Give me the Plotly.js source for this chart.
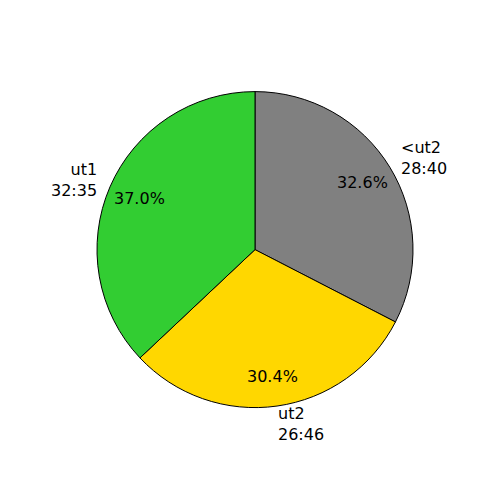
<!DOCTYPE html>
<html>
<head>
<meta charset="utf-8">
<script src="https://cdn.plot.ly/plotly-3.0.1.min.js"></script>
<style>html,body{margin:0;padding:0;background:#fff;}#chart{width:500px;height:500px;}</style>
</head>
<body>
<div id="chart"></div>
<script>
const labels = ['<ut2', 'ut2', 'ut1'];
const times = ['28:40', '26:46', '32:35'];
const colors = ['#808080', '#FFD700', '#32CD32'];

const values = times.map(t => { const p = t.split(':'); return (+p[0]) * 60 + (+p[1]); });
const total = values.reduce((a, b) => a + b, 0);

const W = 500, H = 500;
const cx = 255, cy = 249.6, RX = 157, RY = 160, R = 158;
const labelDist = 1.1, pctDist = 0.8;

const annotations = [];
let start = 90;
values.forEach((v, i) => {
  const span = v / total * 360;
  const mid = (start - span / 2) * Math.PI / 180;
  start -= span;
  const lx = cx + labelDist * RX * Math.cos(mid);
  const ly = cy - labelDist * RY * Math.sin(mid);
  const px = cx + pctDist * RX * Math.cos(mid);
  const py = cy - pctDist * RY * Math.sin(mid);
  const left = Math.cos(mid) > 0;
  annotations.push({
    x: lx / W, y: 1 - ly / H, xref: 'paper', yref: 'paper',
    text: labels[i].replace('<', '&lt;') + '<br>' + times[i],
    showarrow: false, xanchor: left ? 'left' : 'right', yanchor: 'middle',
    align: left ? 'left' : 'right', xshift: left ? -3 : 3,
    font: {family: 'DejaVu Sans', size: 16, color: '#000'}
  });
  annotations.push({
    x: px / W, y: 1 - py / H, xref: 'paper', yref: 'paper',
    text: (v / total * 100).toFixed(1) + '%',
    showarrow: false, xanchor: 'center', yanchor: 'middle',
    font: {family: 'DejaVu Sans', size: 16, color: '#000'}
  });
});

const trace = {
  type: 'pie',
  labels: labels,
  values: values,
  marker: {colors: colors, line: {color: '#000', width: 1}},
  sort: false,
  direction: 'clockwise',
  rotation: 0,
  textinfo: 'none',
  hoverinfo: 'none',
  domain: {x: [(cx - R) / W, (cx + R) / W], y: [(H - cy - R) / H, (H - cy + R) / H]}
};

const layout = {
  width: W, height: H,
  margin: {l: 0, r: 0, t: 0, b: 0},
  showlegend: false,
  paper_bgcolor: '#fff',
  annotations: annotations
};

Plotly.newPlot('chart', [trace], layout, {staticPlot: true});
</script>
</body>
</html>
